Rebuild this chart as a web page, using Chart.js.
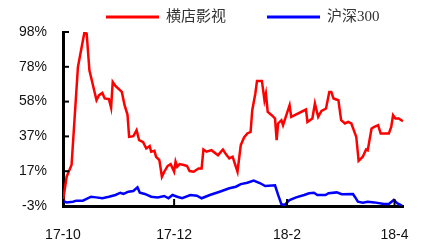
<!DOCTYPE html>
<html>
<head>
<meta charset="utf-8">
<script src="https://cdn.jsdelivr.net/npm/chart.js@4.4.0/dist/chart.umd.min.js"></script>
<style>
  html, body { margin: 0; padding: 0; background: #fff; }
  #wrap { width: 430px; height: 244px; }
</style>
</head>
<body>
<div id="wrap"><canvas id="myChart" width="430" height="244"></canvas></div>
<script>
  // days counted from 2017-10-01
  const xTickDays = [0, 61, 123, 182];
  const xTickLabels = ['17-10', '17-12', '18-2', '18-4'];
  const yTicks = [-3, 17.2, 37.4, 57.6, 77.8, 98];

  const hdDays = [0, 2, 4.7, 8.2, 11.8, 13, 14.5, 18.4, 19.8, 21.6, 22.9, 25.2, 26.4, 27.3, 28.8, 32.3, 33.8, 35.4, 36.3, 38.6,
    40.4, 41.8, 44, 45.7, 47.6, 48.4, 50.2, 51.1, 52.9, 54.3, 55.6, 57.4, 59.1, 61, 61.8, 62.7, 64, 66.3, 68.1, 69.5,
    71.7, 74.4, 76.1, 77.1, 78.8, 81.5, 85.1, 87.8, 89.5, 91.3, 93.1, 95.8, 97.6, 99.4, 101.2, 103, 103.9, 105.6, 106.5, 109.2,
    110.6, 111.4, 112.4, 114.6, 116.4, 117.3, 118.1, 119.9, 120.8, 124.4, 125.3, 133.4, 134.2, 136.9, 138.3, 140.1, 141.9, 144.4, 146.2, 147.3,
    148.5, 151.2, 152.7, 154.8, 156.6, 158.3, 161, 162.3, 164.6, 166.4, 167.3, 169.4, 170.9, 173, 174.4, 178.9, 180.2, 181.2, 182.5, 184.3, 186.6];
  const hdValues = [0, 14, 20.8, 77.7, 98, 97, 75.8, 58.4, 61.3, 62.6, 59.4, 59, 54, 69, 66.7, 63.2, 55.5, 50.1, 37.1, 37.5,
    41, 35.2, 34, 30.4, 31.8, 28.5, 29, 25.6, 23.7, 14, 16.9, 20.2, 21.3, 16.9, 22.7, 19.8, 21.3, 20.8, 20.2, 17.3,
    16.9, 18.8, 18.8, 29.8, 28.5, 29.4, 26.5, 29.8, 27, 24.6, 25.6, 16.9, 32.3, 36.8, 39.1, 40, 52.6, 62.3, 69.6, 69.6,
    58.4, 62.3, 51.6, 49.7, 47.8, 35.2, 44.9, 46.8, 43.9, 55.5, 48.7, 53, 45.8, 47.8, 56.5, 48.7, 52.2, 53.6, 63.2, 63.2,
    59.4, 58.4, 46.8, 44.9, 45.8, 44.9, 37.1, 23.2, 25.6, 29.8, 29.4, 42, 42.9, 43.9, 39.1, 39.1, 42.9, 49.7, 47.8, 47.8, 46.2];

  const hsDays = [0, 2, 5.5, 7.3, 10.9, 15.4, 18.1, 21.6, 25.2, 28.8, 31.5, 33.2, 35.9, 38.6, 40.9, 42.2, 44.9, 48.4, 52, 55.6,
    57.9, 60.1, 62.7, 65.4, 69.9, 73.5, 76.1, 80.6, 86, 91.3, 94.9, 97.6, 101.2, 104.7, 108.3, 111, 116.4, 118.1, 119.9, 121.7,
    124.4, 128, 132.4, 135.1, 137.8, 139.6, 144.1, 145.8, 150.3, 153, 159.2, 160.2, 161.9, 164.6, 167.3, 170.9, 176.2, 178.9, 181.6, 183.4, 186.1];
  const hsValues = [0, -0.9, -0.5, 0.1, 0.1, 2.4, 2, 1.5, 2.4, 3.4, 4.7, 4, 5.3, 5.7, 7.8, 4.7, 4, 2.4, 2, 2.8,
    1.5, 3.4, 2.4, 1.5, 3.4, 3, 1.5, 3.4, 5.3, 7.3, 8.2, 9.7, 10.5, 11.7, 10.2, 8.6, 9, 3.4, -2, -2.4,
    0.5, 2, 3.4, 4.4, 4.7, 3.4, 3.4, 4.4, 4.9, 3.8, 4, 2.4, -0.5, -1.1, -0.5, -0.9, -1.8, -1.8, 0.5, -1.4, -2.8];

  const toPoints = (xs, ys) => xs.map((d, i) => ({ x: d, y: ys[i] }));

  // inward tick marks on both axes
  const innerTicks = {
    id: 'innerTicks',
    afterDraw(chart) {
      const { ctx, chartArea, scales } = chart;
      ctx.save();
      ctx.strokeStyle = '#000';
      ctx.lineWidth = 2;
      scales.y.ticks.forEach(t => {
        const py = scales.y.getPixelForValue(t.value);
        ctx.beginPath();
        ctx.moveTo(chartArea.left, py);
        ctx.lineTo(chartArea.left + 6, py);
        ctx.stroke();
      });
      scales.x.ticks.forEach(t => {
        const px = scales.x.getPixelForValue(t.value);
        ctx.beginPath();
        ctx.moveTo(px, chartArea.bottom);
        ctx.lineTo(px, chartArea.bottom - 7);
        ctx.stroke();
      });
      ctx.restore();
    }
  };

  // line legend on top
  const lineLegend = {
    id: 'lineLegend',
    afterDraw(chart) {
      const ctx = chart.ctx;
      ctx.save();
      ctx.font = '15px "Liberation Serif", "Noto Sans CJK SC"';
      ctx.textBaseline = 'middle';
      let x = 106;
      const y = 17;
      chart.data.datasets.forEach(ds => {
        ctx.strokeStyle = ds.borderColor;
        ctx.lineWidth = 3;
        ctx.beginPath();
        ctx.moveTo(x, y);
        ctx.lineTo(x + 53, y);
        ctx.stroke();
        ctx.fillStyle = '#333';
        ctx.fillText(ds.label, x + 60, y);
        x += 60 + ctx.measureText(ds.label).width + 41;
      });
      ctx.restore();
    }
  };

  const ctx = document.getElementById('myChart').getContext('2d');
  const myChart = new Chart(ctx, {
    type: 'line',
    data: {
      datasets: [{
        label: '横店影视',
        data: toPoints(hdDays, hdValues),
        borderColor: '#ff0000',
        borderWidth: 2.5
      }, {
        label: '沪深300',
        data: toPoints(hsDays, hsValues),
        borderColor: '#0000ff',
        borderWidth: 2.5
      }]
    },
    options: {
      responsive: false,
      animation: false,
      layout: { padding: { top: 32, left: 19, right: 18, bottom: 0 } },
      elements: { point: { radius: 0 }, line: { tension: 0 } },
      plugins: { legend: { display: false }, tooltip: { enabled: false } },
      scales: {
        x: {
          type: 'linear',
          min: 0,
          max: 187,
          afterBuildTicks: s => { s.ticks = xTickDays.map(v => ({ value: v })); },
          afterFit: s => { s.height = 38; },
          ticks: {
            autoSkip: false,
            maxRotation: 0,
            padding: 21,
            color: '#111',
            font: { family: '"Liberation Sans", Arial', size: 14 },
            callback: v => xTickLabels[xTickDays.indexOf(v)]
          },
          grid: { display: false, drawTicks: false, tickLength: 0 },
          border: { display: true, color: '#000', width: 3 }
        },
        y: {
          min: -3,
          max: 98,
          afterBuildTicks: s => { s.ticks = yTicks.map(v => ({ value: v })); },
          afterFit: s => { s.width = 44; },
          ticks: {
            padding: 16,
            color: '#111',
            font: { family: '"Liberation Sans", Arial', size: 14 },
            callback: v => Math.round(v) + '%'
          },
          grid: { display: false, drawTicks: false, tickLength: 0 },
          border: { display: true, color: '#000', width: 3 }
        }
      }
    },
    plugins: [innerTicks, lineLegend]
  });
</script>
</body>
</html>
